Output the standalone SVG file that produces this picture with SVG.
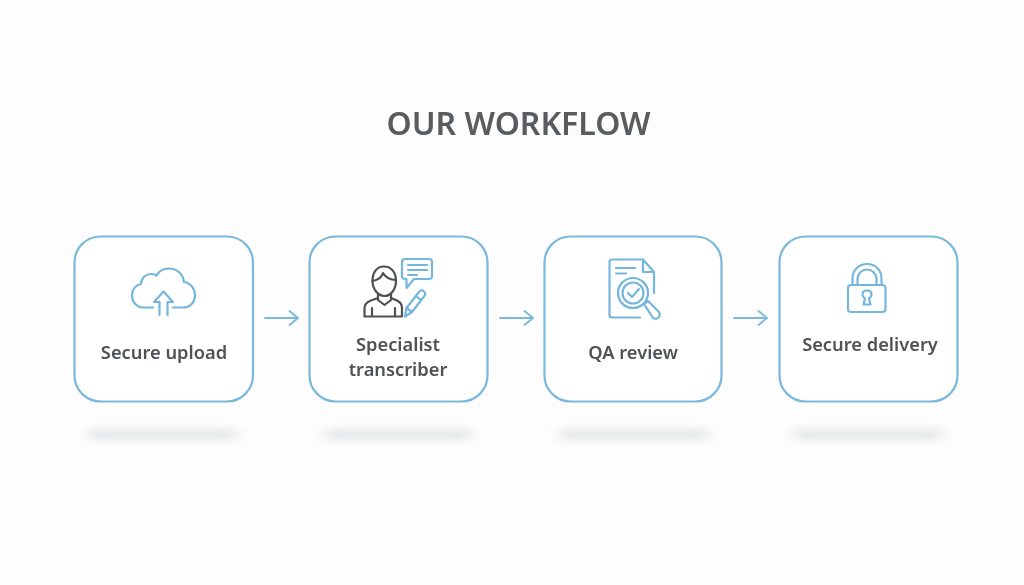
<svg xmlns="http://www.w3.org/2000/svg" width="1024" height="585" viewBox="0 0 1024 585">
<style>
.box{fill:#fff;stroke:#7ab9dc;stroke-width:2.200}
.ic{fill:none;stroke:#74b6dc;stroke-width:2.200;stroke-linecap:round;stroke-linejoin:round;filter:url(#s)}
.dk{fill:none;stroke:#4d5154;stroke-width:2.200;stroke-linecap:round;stroke-linejoin:round;filter:url(#s)}
.lb{font-family:"Noto Sans","Open Sans",sans-serif;font-size:18.300px;font-weight:600;fill:#4f5254;text-anchor:middle;filter:url(#s)}
.sh{fill:#e9eaeb}
.ar{fill:none;stroke:#7ab9dc;stroke-width:1.800;stroke-linecap:round;stroke-linejoin:round}
</style>
<defs>
<filter id="b" x="-20%" y="-200%" width="140%" height="500%"><feGaussianBlur stdDeviation="7 3.500"/></filter>
<filter id="s" x="-10%" y="-10%" width="120%" height="120%"><feGaussianBlur stdDeviation="0.300"/></filter>
</defs>
<rect width="1024" height="585" fill="#fdfdfd"/>
<text x="518.500" y="135" font-family="'Noto Sans','Open Sans',sans-serif" font-size="32" font-weight="600" fill="#595c5f" text-anchor="middle" filter="url(#s)">OUR WORKFLOW</text>
<g id="shadows" filter="url(#b)">
<rect class="sh" x="88" y="428" width="150" height="13" rx="6.500"/>
<rect class="sh" x="324" y="428" width="148" height="13" rx="6.500"/>
<rect class="sh" x="559" y="428" width="150" height="13" rx="6.500"/>
<rect class="sh" x="793" y="428" width="150" height="13" rx="6.500"/>
</g>
<g id="connectors">
<path class="ar" d="M265 318H298M289.500 311L298 318L289.500 325"/>
<path class="ar" d="M500 318H533M524.500 311L533 318L524.500 325"/>
<path class="ar" d="M734 318H767M758.500 311L767 318L758.500 325"/>
</g>
<g id="node-upload">
<rect class="box" x="74.500" y="236.500" width="178.500" height="165" rx="26"/>
<path class="ic" d="M153 307.500H144C137 307.500 132 302 132 295.500C132 289 136 285 141 284C141 278 146 274 151 274C153 274 155 274.500 156.500 275.500C159 271 163 268.500 169 268.500C177 268.500 183 274 184 282C191 283 195 289 195 295.500C195 302 190 307.500 183 307.500H173"/>
<path class="ic" d="M159.500 315V302H154L163.500 291.500L173 302H167.500V315"/>
<text class="lb" x="164" y="359">Secure upload</text>
</g>
<g id="node-transcriber">
<rect class="box" x="309.500" y="236.500" width="178" height="165" rx="26"/>
<path class="dk" d="M372.500 281C372.500 272 377 266.500 384 266.500C391 266.500 396 272 396 281C396 289 391 296 384.500 296C378 296 372.500 289 372.500 281Z"/>
<path class="dk" d="M372.500 281C378 280 382 277 383 273C386 278 391 280 396 280"/>
<path class="dk" d="M378 294V300L384.500 305L391 300V294"/>
<path class="dk" d="M364.500 316.500V308C364.500 304 367 302 371 300.500L378 298M402 316.500H364.500M372 316.500V308M395 316.500V308M391 298L397 300.500C400 302 402 304 402 308V316.500"/>
<path class="ic" d="M405 259H429C431 259 432 260 432 262V276C432 278 431 279 429 279H414L406.500 288V279H405C403 279 402 278 402 276V262C402 260 403 259 405 259Z"/>
<path class="ic" d="M408 265H427M408 270H427M408 275H417"/>
<path class="ic" d="M405 316.500L406.500 308L419 292C421 290 423 290 424 291.500C425.500 293 425.500 295 424 296.500L412 312Z"/>
<path class="ic" d="M406.500 308L412 312M416 296L421 300"/>
<text class="lb" x="398" y="351">Specialist</text>
<text class="lb" x="398" y="376">transcriber</text>
</g>
<g id="node-qa">
<rect class="box" x="544.500" y="236.500" width="177" height="165" rx="26"/>
<path class="ic" d="M640 317.500H612C610.500 317.500 609.500 316.500 609.500 315V262C609.500 260.500 610.500 259.500 612 259.500H643L654 272V293"/>
<path class="ic" d="M643 260V272H654"/>
<path class="ic" d="M616 268H635M616 273.500H626"/>
<circle class="ic" cx="633" cy="293" r="15"/>
<circle class="ic" cx="633" cy="293" r="10.500"/>
<path class="ic" d="M628 293L632 297L639 289"/>
<path class="ic" d="M644 304L648 301L659 312C660 314 660 316 658.500 317.500C657 319 655 319 653 318Z"/>
<text class="lb" x="633" y="359">QA review</text>
</g>
<g id="node-delivery">
<rect class="box" x="779.500" y="236.500" width="178" height="165" rx="26"/>
<path class="ic" d="M852.500 285V278.500C852.500 270 859 264 867 264C875 264 881.500 270 881.500 278.500V285M857.500 285V279C857.500 273.500 862 269.500 867 269.500C872 269.500 876.500 273.500 876.500 279V285"/>
<rect class="ic" x="848" y="285" width="37.500" height="27" rx="3"/>
<path class="ic" d="M863.500 304.500H870.500L869 298.500C870.500 297.500 871.500 296 871.500 294.500C871.500 292 869.500 290.500 867 290.500C864.500 290.500 862.500 292 862.500 294.500C862.500 296 863.500 297.500 865 298.500Z"/>
<text class="lb" x="870" y="351">Secure delivery</text>
</g>
</svg>
